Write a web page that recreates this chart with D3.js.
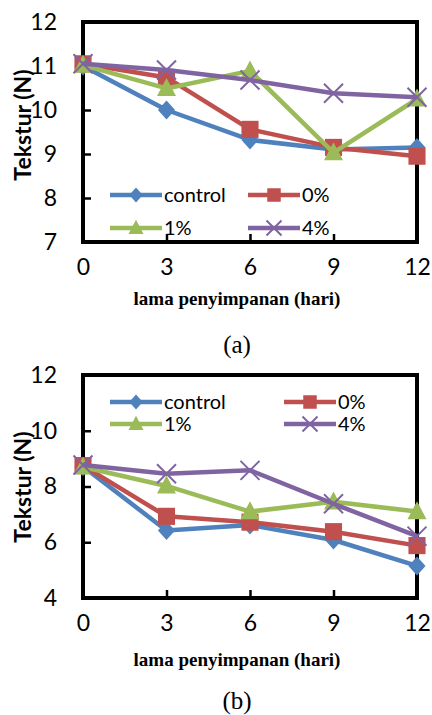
<!DOCTYPE html>
<html>
<head>
<meta charset="utf-8">
<script src="https://cdn.jsdelivr.net/npm/d3@7"></script>
<style>
  body { margin: 0; background: #fff; }
  svg { display: block; }
</style>
</head>
<body>
<svg id="chart" width="432" height="715"></svg>
<script>
// days of storage
var days = [0, 3, 6, 9, 12];
var seriesNames = ["control", "0%", "1%", "4%"];
var seriesColors = ["#4F81BD", "#C0504D", "#9BBB59", "#8064A2"];
var seriesMarkers = ["diamond", "square", "triangle", "cross"];

// panel (a)
var controlA = [11.0, 10.0, 9.32, 9.1, 9.15];
var pct0A = [11.05, 10.74, 9.56, 9.15, 8.95];
var pct1A = [11.02, 10.49, 10.89, 9.03, 10.25];
var pct4A = [11.05, 10.91, 10.68, 10.38, 10.29];
var yTicksA = [7, 8, 9, 10, 11, 12];

// panel (b)
var controlB = [8.72, 6.42, 6.62, 6.08, 5.15];
var pct0B = [8.75, 6.93, 6.72, 6.38, 5.88];
var pct1B = [8.7, 8.02, 7.1, 7.45, 7.1];
var pct4B = [8.77, 8.46, 8.58, 7.38, 6.22];
var yTicksB = [4, 6, 8, 10, 12];

var svg = d3.select("#chart");

// r = half size of the marker
function drawMarker(g, type, x, y, color, r) {
    if (type == "diamond") {
        g.append("path")
            .attr("d", "M" + x + "," + (y - r) + "L" + (x + r * 0.9) + "," + y + "L" + x + "," + (y + r) + "L" + (x - r * 0.9) + "," + y + "Z")
            .attr("fill", color);
    } else if (type == "square") {
        g.append("rect")
            .attr("x", x - r * 0.9).attr("y", y - r * 0.9)
            .attr("width", r * 1.8).attr("height", r * 1.8)
            .attr("fill", color);
    } else if (type == "triangle") {
        g.append("path")
            .attr("d", "M" + x + "," + (y - r * 1.1) + "L" + (x + r) + "," + (y + r * 0.8) + "L" + (x - r) + "," + (y + r * 0.8) + "Z")
            .attr("fill", color);
    } else {
        g.append("path")
            .attr("d", "M" + (x - r) + "," + (y - r) + "L" + (x + r) + "," + (y + r) + "M" + (x + r) + "," + (y - r) + "L" + (x - r) + "," + (y + r))
            .attr("stroke", color)
            .attr("stroke-width", 2)
            .attr("fill", "none");
    }
}

function drawPanel(p) {
    var g = svg.append("g");
    var x = d3.scaleLinear().domain([0, 12]).range([83, 417]);
    var y = d3.scaleLinear().domain(p.yDomain).range([p.bottom, p.top]);

    // frame
    g.append("rect")
        .attr("x", 83).attr("y", p.top)
        .attr("width", 334).attr("height", p.bottom - p.top)
        .attr("fill", "none")
        .attr("stroke", "#000")
        .attr("stroke-width", 4);

    // x ticks, inward
    var xAxis = d3.axisBottom(x).tickValues(days).tickSizeInner(-8).tickSizeOuter(0).tickPadding(17);
    var xa = g.append("g")
        .attr("transform", "translate(0," + p.bottom + ")")
        .call(xAxis);
    xa.select(".domain").remove();
    xa.selectAll(".tick line").attr("stroke", "#000").attr("stroke-width", 2.5);
    xa.selectAll(".tick text")
        .attr("font-family", "Lato, sans-serif")
        .attr("font-size", 23)
        .attr("fill", "#000");

    // y ticks, inward
    var yAxis = d3.axisLeft(y).tickValues(p.yTicks).tickFormat(d3.format("d"))
        .tickSizeInner(-8).tickSizeOuter(0).tickPadding(26);
    var ya = g.append("g")
        .attr("transform", "translate(83,0)")
        .call(yAxis);
    ya.select(".domain").remove();
    ya.selectAll(".tick line").attr("stroke", "#000").attr("stroke-width", 2.5);
    ya.selectAll(".tick text")
        .attr("font-family", "Lato, sans-serif")
        .attr("font-size", 23)
        .attr("fill", "#000");

    // axis titles
    g.append("text")
        .attr("transform", "translate(31," + p.yTitleY + ") rotate(-90)")
        .attr("text-anchor", "middle")
        .attr("font-family", "Lato, sans-serif")
        .attr("font-weight", "bold")
        .attr("font-size", 23)
        .text("Tekstur (N)");

    g.append("text")
        .attr("x", 237).attr("y", p.xTitleY)
        .attr("text-anchor", "middle")
        .attr("font-family", "'Liberation Serif', serif")
        .attr("font-weight", "bold")
        .attr("font-size", 19)
        .text("lama penyimpanan (hari)");

    g.append("text")
        .attr("x", 237).attr("y", p.labelY)
        .attr("text-anchor", "middle")
        .attr("font-family", "'Liberation Serif', serif")
        .attr("font-size", 25)
        .text(p.label);

    // series
    var line = d3.line()
        .x(function (d, i) { return x(days[i]); })
        .y(function (d) { return y(d); });

    p.series.forEach(function (vals, s) {
        g.append("path")
            .datum(vals)
            .attr("d", line)
            .attr("fill", "none")
            .attr("stroke", seriesColors[s])
            .attr("stroke-width", 4.5)
            .attr("stroke-linejoin", "round");
        vals.forEach(function (v, i) {
            drawMarker(g, seriesMarkers[s], x(days[i]), y(v), seriesColors[s], 9.5);
        });
    });

    // legend
    seriesNames.forEach(function (name, s) {
        var lx = p.legendX[s % 2];
        var ly = p.legendY[Math.floor(s / 2)];
        g.append("line")
            .attr("x1", lx).attr("x2", lx + 52)
            .attr("y1", ly).attr("y2", ly)
            .attr("stroke", seriesColors[s])
            .attr("stroke-width", 4.5);
        drawMarker(g, seriesMarkers[s], lx + 26, ly, seriesColors[s], 7.5);
        g.append("text")
            .attr("x", lx + 54).attr("y", ly + 7)
            .attr("font-family", "Lato, sans-serif")
            .attr("font-size", 20)
            .text(name);
    });
}

drawPanel({
    top: 22, bottom: 242, yDomain: [7, 12], yTicks: yTicksA,
    series: [controlA, pct0A, pct1A, pct4A],
    yTitleY: 125, xTitleY: 305, labelY: 353, label: "(a)",
    legendX: [110, 248], legendY: [195, 228]
});

drawPanel({
    top: 375, bottom: 598, yDomain: [4, 12], yTicks: yTicksB,
    series: [controlB, pct0B, pct1B, pct4B],
    yTitleY: 487, xTitleY: 666, labelY: 709, label: "(b)",
    legendX: [110, 284], legendY: [402, 424]
});
</script>
</body>
</html>
